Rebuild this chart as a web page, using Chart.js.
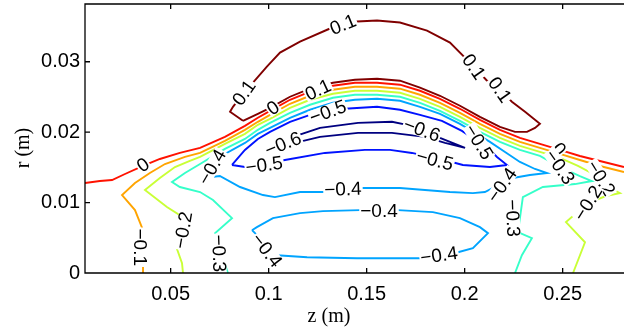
<!DOCTYPE html>
<html><head><meta charset="utf-8">
<script src="https://cdn.jsdelivr.net/npm/chart.js@4"></script>
<style>html,body{margin:0;padding:0;background:#fff;overflow:hidden}#wrap{width:624px;height:328px;position:relative}</style>
</head><body><div id="wrap"><canvas id="c" width="624" height="328"></canvas></div>
<script>
// contour levels and jet colours
const levels = [-0.6, -0.5, -0.4, -0.3, -0.2, -0.1, 0, 0.1];
const levelColors = ['#000080', '#0012ff', '#00a4ff', '#36ffc9', '#c9ff36', '#ffa400', '#ff1200', '#800000'];
const xTicks = [0.05, 0.1, 0.15, 0.2, 0.25];
const yTicks = [0, 0.01, 0.02, 0.03];
const xTickLabels = ['0.05', '0.1', '0.15', '0.2', '0.25'];
const yTickLabels = ['0', '0.01', '0.02', '0.03'];
const zRange = [0.0063, 0.2813];
const rRange = [0, 0.0382];

// contour lines, [z, r] in metres
const lineP01 = [[0.0869,0.02161],[0.0945,0.02261],[0.1007,0.02346],[0.1109,0.02503],[0.1211,0.02617],[0.1328,0.02702],[0.1440,0.02745],[0.1553,0.02759],[0.1670,0.02731],[0.1772,0.02631],[0.1874,0.02517],[0.1976,0.02375],[0.2078,0.02218],[0.2180,0.02075],[0.2257,0.02004],[0.2318,0.02004],[0.2359,0.02061],[0.2384,0.02118],[0.2308,0.02289],[0.2241,0.02432],[0.2180,0.02603],[0.2114,0.02731],[0.2047,0.02930],[0.1925,0.03272],[0.1808,0.03443],[0.1670,0.03557],[0.1553,0.03585],[0.1451,0.03571],[0.1379,0.03528],[0.1313,0.03472],[0.1160,0.03286],[0.1058,0.03130],[0.0991,0.02930],[0.0920,0.02702],[0.0874,0.02560],[0.0818,0.02360],[0.0803,0.02289],[0.0869,0.02161]];
const line0 = [[0.0063,0.01278],[0.0139,0.01306],[0.0201,0.01320],[0.0267,0.01406],[0.0359,0.01520],[0.0445,0.01619],[0.0547,0.01705],[0.0650,0.01776],[0.0777,0.01933],[0.0879,0.02090],[0.0945,0.02204],[0.1007,0.02303],[0.1109,0.02460],[0.1211,0.02574],[0.1328,0.02660],[0.1440,0.02702],[0.1553,0.02702],[0.1670,0.02674],[0.1772,0.02588],[0.1874,0.02474],[0.1976,0.02332],[0.2078,0.02175],[0.2180,0.02033],[0.2282,0.01919],[0.2384,0.01833],[0.2486,0.01748],[0.2588,0.01662],[0.2690,0.01591],[0.2813,0.01505]];
const lineM01 = [[0.0364,0],[0.0359,0.00138],[0.0359,0.00608],[0.0318,0.00893],[0.0252,0.01107],[0.0318,0.01278],[0.0394,0.01420],[0.0471,0.01548],[0.0573,0.01648],[0.0650,0.01705],[0.0777,0.01876],[0.0879,0.02033],[0.0945,0.02147],[0.1007,0.02246],[0.1109,0.02403],[0.1211,0.02517],[0.1328,0.02603],[0.1440,0.02645],[0.1553,0.02645],[0.1670,0.02617],[0.1772,0.02531],[0.1874,0.02417],[0.1976,0.02275],[0.2078,0.02118],[0.2180,0.01976],[0.2282,0.01862],[0.2384,0.01776],[0.2486,0.01691],[0.2588,0.01605],[0.2690,0.01520],[0.2813,0.01434]];
const lineM02 = [[0.0563,0],[0.0558,0.00138],[0.0522,0.00423],[0.0563,0.00793],[0.0481,0.00936],[0.0369,0.01178],[0.0445,0.01349],[0.0522,0.01505],[0.0598,0.01591],[0.0650,0.01648],[0.0777,0.01833],[0.0879,0.01976],[0.0945,0.02104],[0.1007,0.02189],[0.1109,0.02346],[0.1211,0.02460],[0.1328,0.02546],[0.1440,0.02588],[0.1553,0.02588],[0.1670,0.02560],[0.1772,0.02474],[0.1874,0.02360],[0.1976,0.02218],[0.2078,0.02061],[0.2180,0.01919],[0.2282,0.01805],[0.2384,0.01719],[0.2486,0.01634],[0.2578,0.01520],[0.2695,0.01349],[0.2762,0.01178],[0.2792,0.01135],[0.2721,0.01093],[0.2629,0.00993],[0.2517,0.00722],[0.2614,0.00437],[0.2553,0]];
const lineM03 = [[0.0792,0],[0.0726,0.00565],[0.0813,0.00779],[0.0716,0.01036],[0.0650,0.01150],[0.0547,0.01221],[0.0507,0.01292],[0.0573,0.01420],[0.0650,0.01548],[0.0777,0.01762],[0.0879,0.01904],[0.0945,0.02033],[0.1007,0.02132],[0.1109,0.02275],[0.1211,0.02389],[0.1328,0.02489],[0.1440,0.02531],[0.1553,0.02531],[0.1670,0.02503],[0.1772,0.02417],[0.1874,0.02303],[0.1976,0.02161],[0.2078,0.02004],[0.2180,0.01862],[0.2282,0.01748],[0.2384,0.01662],[0.2486,0.01505],[0.2588,0.01377],[0.2649,0.01306],[0.2563,0.01263],[0.2399,0.01221],[0.2297,0.01078],[0.2272,0.00579],[0.2343,0.00494],[0.2292,0.00252],[0.2257,0]];
const lineM04a = [[0.0665,0.01349],[0.0777,0.01691],[0.0879,0.01847],[0.0945,0.01976],[0.1007,0.02061],[0.1109,0.02204],[0.1211,0.02318],[0.1328,0.02417],[0.1440,0.02460],[0.1553,0.02474],[0.1670,0.02446],[0.1772,0.02360],[0.1874,0.02261],[0.1976,0.02118],[0.2053,0.01990],[0.2129,0.01862],[0.2206,0.01719],[0.2282,0.01577],[0.2359,0.01477],[0.2420,0.01420],[0.2333,0.01391],[0.2246,0.01349],[0.2103,0.01150],[0.2042,0.01135],[0.1925,0.01150],[0.1670,0.01207],[0.1481,0.01207],[0.1277,0.01150],[0.1160,0.01150],[0.1032,0.01078],[0.0971,0.01107],[0.0854,0.01221],[0.0751,0.01377],[0.0665,0.01349]];
const lineM04b = [[0.0915,0.00608],[0.0940,0.00651],[0.1022,0.00779],[0.1160,0.00850],[0.1277,0.00879],[0.1466,0.00893],[0.1660,0.00893],[0.1838,0.00864],[0.1976,0.00779],[0.2078,0.00651],[0.2119,0.00565],[0.2042,0.00352],[0.1966,0.00295],[0.1772,0.00209],[0.1706,0.00209],[0.1451,0.00209],[0.1196,0.00224],[0.1043,0.00252],[0.0915,0.00608]];
const lineM05 = [[0.0813,0.01534],[0.0879,0.01748],[0.0945,0.01904],[0.1007,0.02004],[0.1109,0.02147],[0.1211,0.02246],[0.1389,0.02332],[0.1553,0.02360],[0.1670,0.02318],[0.1772,0.02246],[0.1884,0.02161],[0.1986,0.02018],[0.2063,0.01876],[0.2129,0.01748],[0.2165,0.01648],[0.2216,0.01534],[0.2129,0.01505],[0.1991,0.01534],[0.1915,0.01591],[0.1731,0.01705],[0.1619,0.01748],[0.1491,0.01748],[0.1287,0.01705],[0.1083,0.01605],[0.0879,0.01505],[0.0813,0.01534]];
const lineM06 = [[0.1017,0.01776],[0.1109,0.01919],[0.1262,0.02061],[0.1456,0.02132],[0.1629,0.02147],[0.1706,0.02104],[0.1782,0.02033],[0.1874,0.01919],[0.2002,0.01776],[0.1900,0.01847],[0.1797,0.01933],[0.1629,0.01990],[0.1456,0.01990],[0.1262,0.01933],[0.1134,0.01847],[0.1017,0.01776]];

const contourLines = [
  [0.1, lineP01], [0, line0], [-0.1, lineM01], [-0.2, lineM02], [-0.3, lineM03],
  [-0.4, lineM04a], [-0.4, lineM04b], [-0.5, lineM05], [-0.6, lineM06]
];

// contour labels: text, z, r, angle (deg)
const contourLabels = [
  ['0.1', 0.0874, 0.02560, -55], ['0.1', 0.1379, 0.03528, -22], ['0.1', 0.2047, 0.02930, 55],
  ['0.1', 0.2180, 0.02603, 55], ['0.1', 0.1252, 0.02603, -25], ['0', 0.1022, 0.02346, -35],
  ['0', 0.0359, 0.01534, -35], ['0', 0.2482, 0.01762, 50],
  ['−0.5', 0.1302, 0.02289, -20], ['−0.6', 0.1073, 0.01833, -22], ['−0.5', 0.0977, 0.01534, -8],
  ['−0.6', 0.1782, 0.02033, 20], ['−0.5', 0.1848, 0.01605, 15], ['−0.5', 0.2073, 0.01862, 58],
  ['−0.4', 0.0711, 0.01505, -60], ['−0.4', 0.2190, 0.01249, -55], ['−0.3', 0.2486, 0.01505, 55],
  ['−0.2', 0.2695, 0.01349, 58], ['−0.2', 0.2629, 0.00993, -58], ['−0.3', 0.2246, 0.00779, 88],
  ['−0.4', 0.1379, 0.01192, -2], ['−0.4', 0.1563, 0.00879, 0], ['−0.4', 0.1869, 0.00252, -8],
  ['−0.4', 0.0991, 0.00323, 52], ['−0.1', 0.0343, 0.00366, 90], ['−0.2', 0.0563, 0.00608, -80],
  ['−0.3', 0.0747, 0.00280, 88]
];

const datasets = contourLines.map(([lv, pts]) => ({
  data: pts.map(p => ({x: p[0], y: p[1]})),
  showLine: true,
  borderColor: levelColors[levels.indexOf(lv)],
  borderWidth: 1.9,
  pointRadius: 0,
  pointHoverRadius: 0,
  tension: 0,
  fill: false
}));

const decorPlugin = {
  id: 'decor',
  afterDatasetsDraw(chart) {
    const {ctx, chartArea: a, scales: {x, y}} = chart;
    ctx.save();
    ctx.font = '19px "Liberation Sans", Arial, sans-serif';
    ctx.textAlign = 'center';
    ctx.textBaseline = 'middle';
    contourLabels.forEach(([t, z, r, ang]) => {
      const px = x.getPixelForValue(z), py = y.getPixelForValue(r);
      ctx.save();
      ctx.translate(px, py);
      ctx.rotate(ang * Math.PI / 180);
      const w = ctx.measureText(t).width;
      ctx.fillStyle = '#fff';
      ctx.fillRect(-w / 2 - 1, -7, w + 2, 14);
      ctx.fillStyle = '#000';
      ctx.fillText(t, 0, 1);
      ctx.restore();
    });
    ctx.strokeStyle = '#000';
    ctx.lineWidth = 1.3;
    ctx.beginPath();
    ctx.moveTo(a.right + 2, a.top); ctx.lineTo(a.left, a.top);
    ctx.lineTo(a.left, a.bottom); ctx.lineTo(a.right + 2, a.bottom);
    xTicks.forEach(v => {
      const p = x.getPixelForValue(v);
      ctx.moveTo(p, a.bottom); ctx.lineTo(p, a.bottom - 5);
      ctx.moveTo(p, a.top); ctx.lineTo(p, a.top + 5);
    });
    yTicks.forEach(v => {
      const p = y.getPixelForValue(v);
      ctx.moveTo(a.left, p); ctx.lineTo(a.left + 5, p);
    });
    ctx.stroke();
    ctx.fillStyle = '#000';
    ctx.font = '20px "Liberation Serif", "Times New Roman", serif';
    ctx.textAlign = 'center';
    ctx.textBaseline = 'alphabetic';
    ctx.fillText('z (m)', 329, 322);
    ctx.translate(29, 148);
    ctx.rotate(-Math.PI / 2);
    ctx.fillText('r (m)', 0, 0);
    ctx.restore();
  }
};

new Chart(document.getElementById('c'), {
  type: 'scatter',
  data: {datasets},
  options: {
    responsive: false,
    animation: false,
    events: [],
    layout: {padding: {top: 4, right: 0, left: 0, bottom: 0}},
    plugins: {legend: {display: false}, tooltip: {enabled: false}},
    scales: {
      x: {
        type: 'linear', min: zRange[0], max: zRange[1],
        afterFit(s) { s.height = 55; s.paddingLeft = 0; s.paddingRight = 0; },
        afterBuildTicks(s) { s.ticks = xTicks.map(v => ({value: v})); },
        grid: {display: false, drawTicks: false},
        border: {display: false},
        ticks: {
          padding: 9, maxRotation: 0, autoSkip: false, color: '#000',
          font: {family: '"Liberation Sans", Arial, sans-serif', size: 20},
          callback: (v, i) => xTickLabels[i]
        }
      },
      y: {
        type: 'linear', min: rRange[0], max: rRange[1],
        afterFit(s) { s.width = 85; s.paddingTop = 0; s.paddingBottom = 0; },
        afterBuildTicks(s) { s.ticks = yTicks.map(v => ({value: v})); },
        grid: {display: false, drawTicks: false},
        border: {display: false},
        ticks: {
          padding: 5, autoSkip: false, color: '#000',
          font: {family: '"Liberation Sans", Arial, sans-serif', size: 20},
          callback: (v, i) => yTickLabels[i]
        }
      }
    }
  },
  plugins: [decorPlugin]
});
</script>
</body></html>
